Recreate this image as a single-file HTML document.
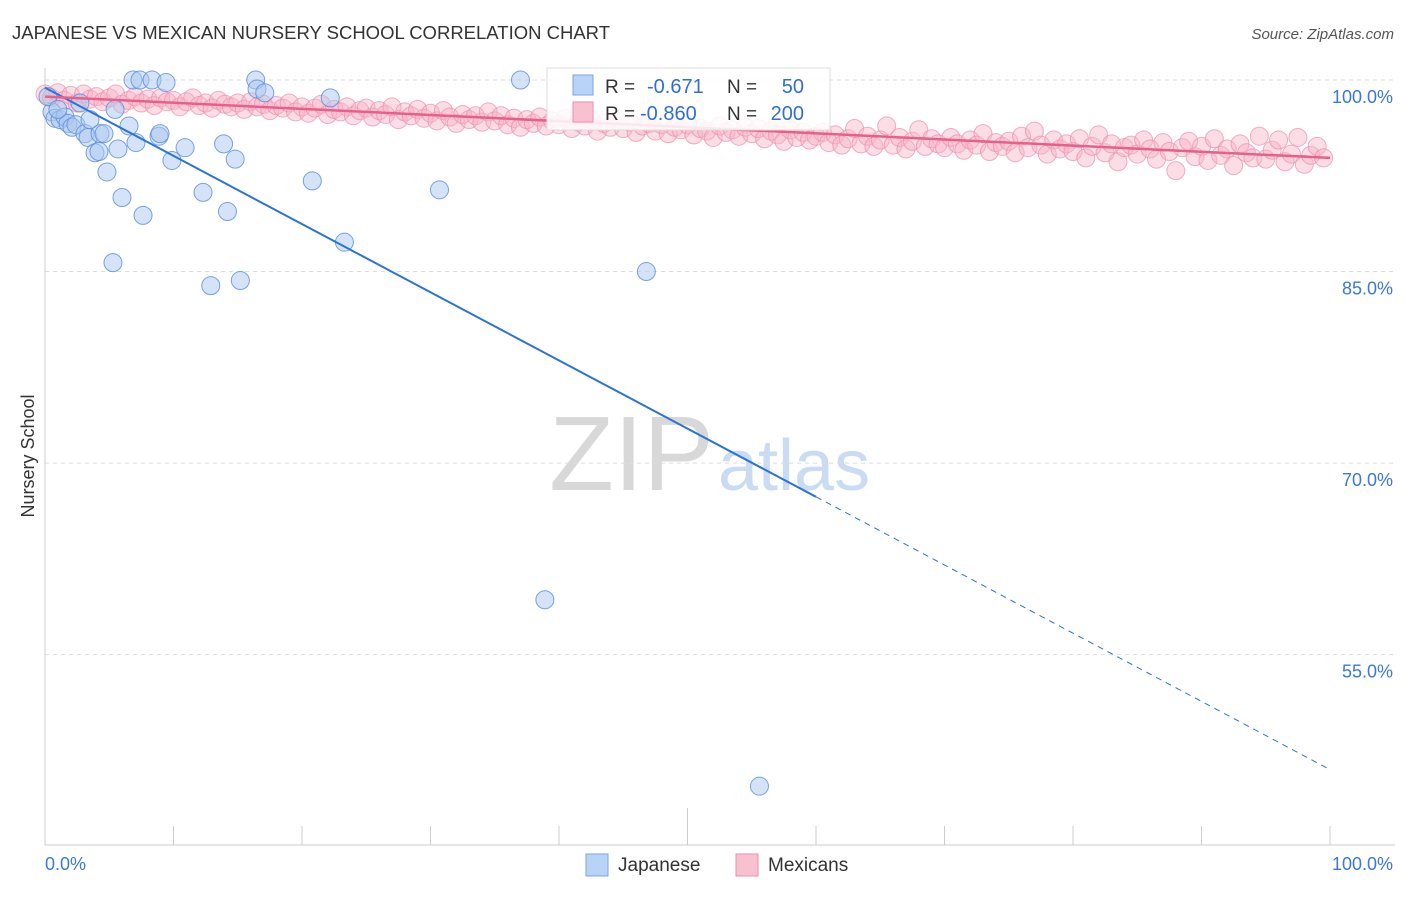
<!DOCTYPE html>
<html><head><meta charset="utf-8"><style>
body{margin:0;background:#fff;font-family:"Liberation Sans",sans-serif;}
svg text{font-family:"Liberation Sans",sans-serif;}
</style></head><body>
<svg id="chart" width="1406" height="892" xmlns="http://www.w3.org/2000/svg">
<text x="12" y="39" font-size="18" fill="#333" textLength="598" lengthAdjust="spacingAndGlyphs">JAPANESE VS MEXICAN NURSERY SCHOOL CORRELATION CHART</text>
<text x="1394" y="39" font-size="15" fill="#555" text-anchor="end" font-style="italic">Source: ZipAtlas.com</text>
<text x="714" y="490" font-size="106" fill="#d8d8d8" text-anchor="end" font-family="Liberation Serif">ZIP</text>
<text x="718" y="490" font-size="72" fill="#c9dcf3">atlas</text>
<text x="34" y="456" font-size="18" fill="#333" text-anchor="middle" transform="rotate(-90 34 456)">Nursery School</text>
<g id="grid"></g><g id="axes"></g><g id="pinkpts"></g><g id="bluepts"></g><g id="lines"></g>
<g>
<rect x="547" y="68" width="283" height="62" fill="#fff" fill-opacity="0.85" stroke="#ddd"/>
<rect x="573" y="75" width="20" height="20" fill="#b8d3f5" stroke="#7aa6e0"/>
<rect x="573" y="102" width="20" height="20" fill="#f9c0d0" stroke="#eb8fac"/>
<text x="605" y="93" font-size="19" fill="#333">R =</text><text x="647" y="93" font-size="20" fill="#2f6fd6">-0.671</text>
<text x="727" y="93" font-size="19" fill="#333">N =</text><text x="804" y="93" font-size="20" fill="#2f6fd6" text-anchor="end">50</text>
<text x="605" y="120" font-size="19" fill="#333">R =</text><text x="640" y="120" font-size="20" fill="#2f6fd6">-0.860</text>
<text x="727" y="120" font-size="19" fill="#333">N =</text><text x="804" y="120" font-size="20" fill="#2f6fd6" text-anchor="end">200</text>
</g>
<g>
<rect x="586" y="854" width="22" height="22" fill="#b8d3f5" stroke="#7aa6e0"/>
<text x="618" y="871" font-size="19" fill="#333">Japanese</text>
<rect x="736" y="854" width="22" height="22" fill="#f9c0d0" stroke="#eb8fac"/>
<text x="768" y="871" font-size="19" fill="#333">Mexicans</text>
</g>
</svg>
<script>
const yTicks=[100,85,70,55];
const yTickLabels=["100.0%","85.0%","70.0%","55.0%"];
const xTicks=[0,10,20,30,40,50,60,70,80,90,100];
const xTickLabels=["0.0%","100.0%"];
const blueX=[0.54,0.78,1.17,1.56,1.79,2.1,2.41,2.72,3.11,3.35,3.89,4.2,4.28,4.59,4.82,5.29,5.45,5.68,5.99,6.54,6.85,7.08,7.39,7.63,8.33,8.87,8.95,9.42,9.88,10.9,12.3,12.9,13.9,14.2,14.8,15.2,16.4,16.5,17.1,20.8,22.2,23.3,30.7,37.0,38.9,46.8,55.6,0.23,1.0,3.5];
const blueY=[97.5,97.0,96.9,97.1,96.6,96.3,96.5,98.2,95.8,95.5,94.3,94.4,95.8,95.8,92.8,85.7,97.7,94.6,90.8,96.4,100,95.1,100,89.4,100,95.6,95.8,99.8,93.7,94.7,91.2,83.9,95.0,89.7,93.8,84.3,100,99.3,99.0,92.1,98.6,87.3,91.4,100,59.3,85.0,44.7,98.7,97.7,96.9];
const pinkX=[0,0.5,1,1.5,2,2.5,3,3.5,4,4.5,5,5.5,6,6.5,7,7.5,8,8.5,9,9.5,10,10.5,11,11.5,12,12.5,13,13.5,14,14.5,15,15.5,16,16.5,17,17.5,18,18.5,19,19.5,20,20.5,21,21.5,22,22.5,23,23.5,24,24.5,25,25.5,26,26.5,27,27.5,28,28.5,29,29.5,30,30.5,31,31.5,32,32.5,33,33.5,34,34.5,35,35.5,36,36.5,37,37.5,38,38.5,39,39.5,40,40.5,41,41.5,42,42.5,43,43.5,44,44.5,45,45.5,46,46.5,47,47.5,48,48.5,49,49.5,50,50.5,51,51.5,52,52.5,53,53.5,54,54.5,55,55.5,56,56.5,57,57.5,58,58.5,59,59.5,60,60.5,61,61.5,62,62.5,63,63.5,64,64.5,65,65.5,66,66.5,67,67.5,68,68.5,69,69.5,70,70.5,71,71.5,72,72.5,73,73.5,74,74.5,75,75.5,76,76.5,77,77.5,78,78.5,79,79.5,80,80.5,81,81.5,82,82.5,83,83.5,84,84.5,85,85.5,86,86.5,87,87.5,88,88.5,89,89.5,90,90.5,91,91.5,92,92.5,93,93.5,94,94.5,95,95.5,96,96.5,97,97.5,98,98.5,99,99.5];
const pinkY=[98.9,98.6,99.0,98.4,98.8,98.2,98.9,98.5,98.7,98.3,98.6,98.9,98.1,98.4,98.7,98.2,98.5,98.0,98.6,98.3,98.4,97.9,98.3,98.6,98.0,98.2,97.8,98.4,98.1,97.9,98.2,97.7,98.3,97.9,98.1,97.6,98.0,97.8,98.2,97.5,97.9,97.4,97.8,98.1,97.3,97.7,97.5,97.9,97.2,97.6,97.8,97.1,97.6,97.3,97.9,96.9,97.5,97.2,97.7,97.0,97.4,96.8,97.6,97.1,96.6,97.3,96.9,97.2,96.7,97.5,96.8,97.2,96.5,97.0,96.3,96.9,96.6,97.1,96.4,96.8,96.5,97.0,96.2,96.7,96.4,96.9,96.0,96.6,96.3,96.8,96.2,96.7,95.9,96.4,96.6,96.0,96.5,95.8,96.3,96.1,96.5,95.7,96.2,96.0,95.5,96.4,95.9,96.1,95.6,96.3,95.8,96.2,95.4,96.0,95.7,95.2,96.1,95.5,95.9,95.3,95.6,95.9,95.1,95.7,94.9,95.4,96.2,95.0,95.6,94.8,95.3,96.4,94.9,95.5,94.6,95.2,96.1,94.8,95.4,95.0,94.7,95.5,95.0,94.5,95.3,94.9,95.8,94.4,95.1,94.8,95.2,94.3,95.6,94.7,96.0,94.9,94.2,95.3,94.6,95.0,94.4,95.4,93.9,94.8,95.7,94.3,95.0,93.6,94.7,94.9,94.2,95.3,94.6,93.8,95.1,94.4,92.9,94.7,95.2,94.0,94.8,93.7,95.4,94.1,94.6,93.3,95.0,94.3,93.9,95.6,93.8,94.5,95.3,93.6,94.2,95.5,93.4,94.1,94.8,93.9];
const blueTrend=[99.4,46.0];
const pinkTrend=[98.7,93.9];
const NS="http://www.w3.org/2000/svg";
const X0=45,X1=1330,Y100=80,PXPCT=12.77;
function sx(v){return X0+(X1-X0)*v/100;}
function sy(v){return Y100+(100-v)*PXPCT;}
function mk(tag,attrs,parent){const e=document.createElementNS(NS,tag);for(const k in attrs)e.setAttribute(k,attrs[k]);document.getElementById(parent).appendChild(e);return e;}
yTicks.forEach((t,i)=>{
  const g=mk('line',{x1:45,x2:1393,y1:sy(t),y2:sy(t),stroke:'#ddd','stroke-dasharray':'4,4'},'grid');
  
  
  const tx=mk('text',{x:1393,y:sy(t)+23,'font-size':18,fill:'#3b78d8','text-anchor':'end'},'grid');
  tx.textContent=yTickLabels[i];
  
  
});
const ax=mk('line',{x1:45,x2:45,y1:68,y2:845,stroke:'#ccc'},'axes');


const bx=mk('line',{x1:45,x2:1395,y1:845,y2:845,stroke:'#ccc'},'axes');


xTicks.forEach(t=>{
  const l=mk('line',{x1:sx(t),x2:sx(t),y1:t===50?808:826,y2:845,stroke:'#ccc'},'axes');
  
  
});
const xl0=mk('text',{x:45,y:870,'font-size':18,fill:'#3b78d8'},'axes');xl0.textContent=xTickLabels[0];


const xl1=mk('text',{x:1393,y:870,'font-size':18,fill:'#3b78d8','text-anchor':'end'},'axes');xl1.textContent=xTickLabels[1];


pinkX.forEach((v,i)=>{
  const c=mk('circle',{cx:sx(v),cy:sy(pinkY[i]),r:9,fill:'#f7b3c7','fill-opacity':0.45,stroke:'#eb8fac','stroke-opacity':0.7},'pinkpts');
  
  
});
blueX.forEach((v,i)=>{
  const c=mk('circle',{cx:sx(v),cy:sy(blueY[i]),r:9,fill:'#a9c8f0','fill-opacity':0.5,stroke:'#5a8fd8','stroke-opacity':0.8},'bluepts');
  
  
});
const split=60;
const bm=blueTrend[0]+(blueTrend[1]-blueTrend[0])*split/100;
const b1=mk('line',{x1:sx(0),y1:sy(blueTrend[0]),x2:sx(split),y2:sy(bm),stroke:'#2a74d8','stroke-width':2},'lines');


const b2=mk('line',{x1:sx(split),y1:sy(bm),x2:sx(100),y2:sy(blueTrend[1]),stroke:'#2a74d8','stroke-width':1,'stroke-dasharray':'6,5'},'lines');


const p1=mk('line',{x1:sx(0),y1:sy(pinkTrend[0]),x2:sx(100),y2:sy(pinkTrend[1]),stroke:'#e8608a','stroke-width':2.5},'lines');


</script>
</body></html>
